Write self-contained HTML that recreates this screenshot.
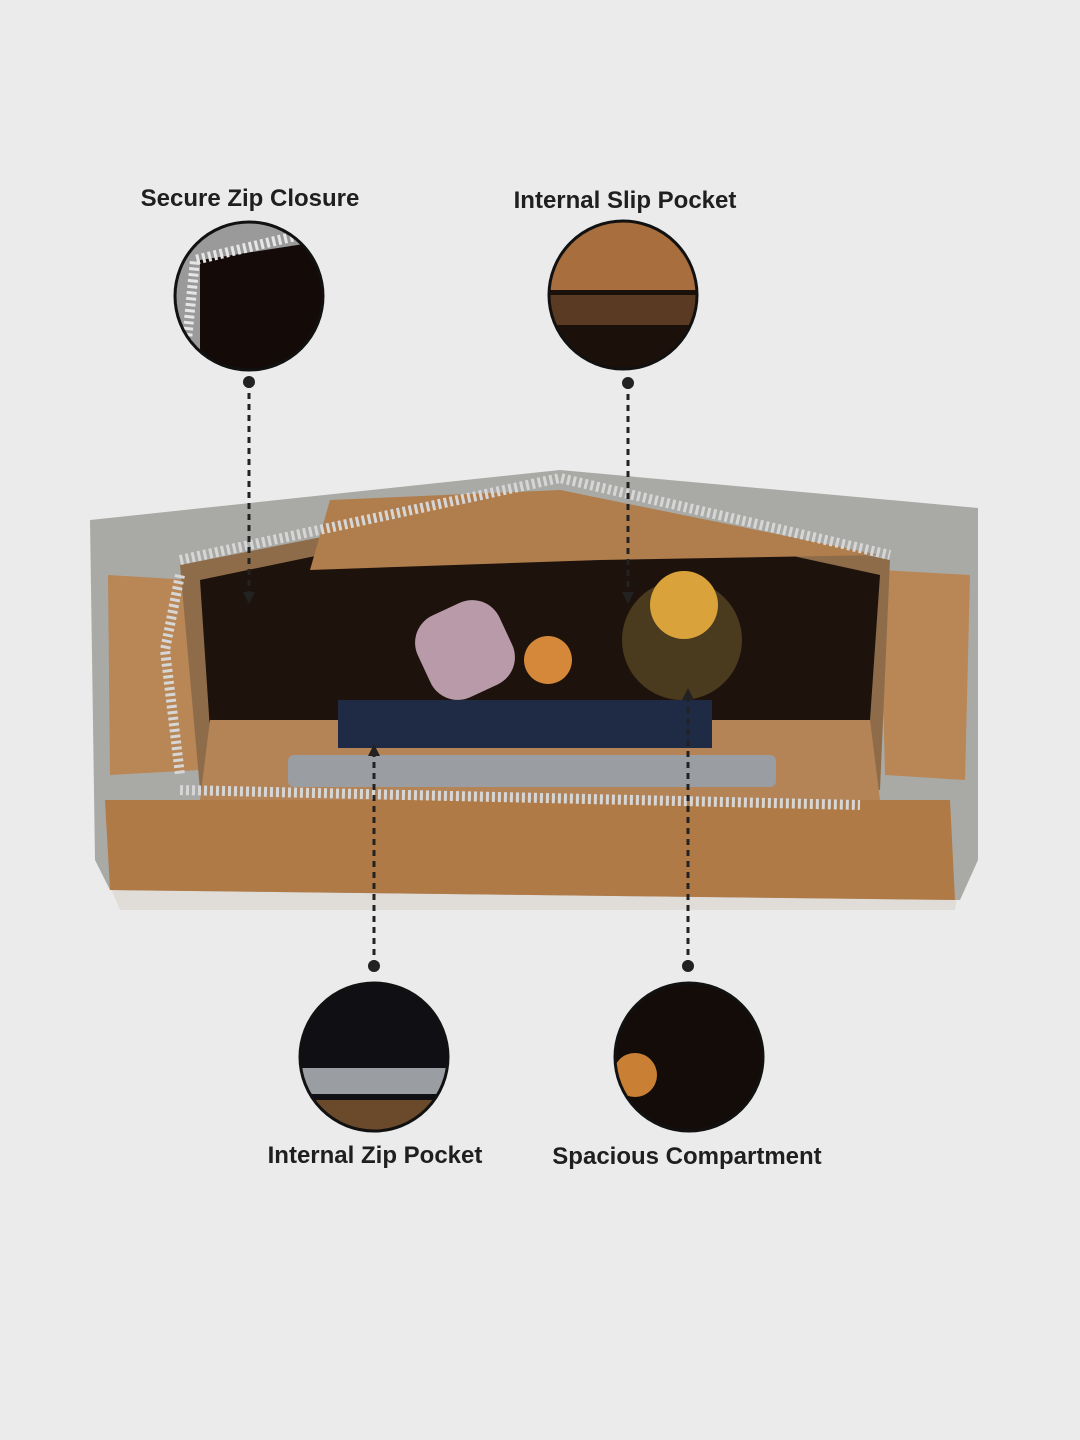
<!DOCTYPE html>
<html><head><meta charset="utf-8"><style>
html,body{margin:0;padding:0;background:#ebebeb;}
svg{display:block}
text{font-family:"Liberation Sans",sans-serif;font-weight:bold;fill:#1f1f1f;font-size:24px}
</style></head><body>
<svg width="1080" height="1440" viewBox="0 0 1080 1440">
<rect width="1080" height="1440" fill="#ebebeb"/>
<!-- bag -->
<polygon points="105,875 960,880 955,910 120,910" fill="#d8d2cc" opacity="0.6"/>
<polygon points="90,520 560,470 978,508 978,860 960,900 110,890 95,860" fill="#a9aaa6"/>
<polygon points="105,800 950,800 955,900 110,890" fill="#b07a47"/>
<polygon points="108,575 190,580 200,770 110,775" fill="#b98656"/>
<polygon points="880,570 970,575 965,780 885,775" fill="#b98656"/>
<polygon points="180,565 560,490 890,560 880,790 200,790" fill="#8e6c49"/>
<polygon points="200,580 560,505 880,575 870,720 210,730" fill="#1d120c"/>
<polygon points="330,500 560,490 880,555 600,560 310,570" fill="#b07d4c"/>
<polygon points="210,720 870,720 880,800 200,800" fill="#b58456"/>
<rect x="338" y="700" width="374" height="48" fill="#1f2a44"/>
<rect x="288" y="755" width="488" height="32" rx="6" fill="#9a9ea3"/>
<rect x="420" y="605" width="90" height="90" rx="30" fill="#b89aa8" transform="rotate(-25 465 650)"/>
<circle cx="548" cy="660" r="24" fill="#d5883a"/>
<circle cx="682" cy="640" r="60" fill="#4a3a1e"/>
<circle cx="684" cy="605" r="34" fill="#d9a23a"/>
<polyline points="180,560 560,478 890,555" fill="none" stroke="#d6d6d6" stroke-width="10" stroke-dasharray="3 3"/>
<polyline points="180,790 860,805" fill="none" stroke="#d6d6d6" stroke-width="10" stroke-dasharray="3 3"/>
<polyline points="180,575 165,650 180,775" fill="none" stroke="#d6d6d6" stroke-width="10" stroke-dasharray="3 3"/>
<!-- circles -->
<defs>
<clipPath id="c1"><circle cx="249" cy="296" r="74"/></clipPath>
<clipPath id="c2"><circle cx="623" cy="295" r="74"/></clipPath>
<clipPath id="c3"><circle cx="374" cy="1057" r="74"/></clipPath>
<clipPath id="c4"><circle cx="689" cy="1057" r="74"/></clipPath>
</defs>
<g clip-path="url(#c1)"><rect x="170" y="220" width="160" height="160" fill="#9a9a9a"/><polygon points="200,260 330,240 330,380 200,380" fill="#140b08"/><polyline points="185,360 195,260 300,235" fill="none" stroke="#e6e6e6" stroke-width="10" stroke-dasharray="3 3"/></g>
<circle cx="249" cy="296" r="74" fill="none" stroke="#111" stroke-width="3"/>
<g clip-path="url(#c2)"><rect x="545" y="215" width="160" height="160" fill="#1c100a"/><rect x="545" y="215" width="160" height="75" fill="#a86e3e"/><rect x="545" y="295" width="160" height="30" fill="#5a3a22"/></g>
<circle cx="623" cy="295" r="74" fill="none" stroke="#111" stroke-width="3"/>
<g clip-path="url(#c3)"><rect x="295" y="980" width="160" height="160" fill="#0f0f14"/><rect x="295" y="1068" width="160" height="26" fill="#9a9ea3"/><rect x="295" y="1100" width="160" height="40" fill="#6a4a2a"/></g>
<circle cx="374" cy="1057" r="74" fill="none" stroke="#111" stroke-width="3"/>
<g clip-path="url(#c4)"><rect x="610" y="980" width="160" height="160" fill="#140c08"/><circle cx="635" cy="1075" r="22" fill="#c98034"/></g>
<circle cx="689" cy="1057" r="74" fill="none" stroke="#111" stroke-width="3"/>
<!-- connectors -->
<g stroke="#222" stroke-width="3" stroke-dasharray="6 5" fill="none">
<line x1="249" y1="382" x2="249" y2="595"/>
<line x1="628" y1="383" x2="628" y2="595"/>
<line x1="374" y1="966" x2="374" y2="755"/>
<line x1="688" y1="966" x2="688" y2="700"/>
</g>
<g fill="#222">
<circle cx="249" cy="382" r="6"/><circle cx="628" cy="383" r="6"/>
<circle cx="374" cy="966" r="6"/><circle cx="688" cy="966" r="6"/>
<polygon points="243,592 255,592 249,604"/><polygon points="622,592 634,592 628,604"/>
<polygon points="368,756 380,756 374,744"/><polygon points="682,700 694,700 688,688"/>
</g>
<text x="250" y="206" text-anchor="middle">Secure Zip Closure</text>
<text x="625" y="208" text-anchor="middle">Internal Slip Pocket</text>
<text x="375" y="1163" text-anchor="middle">Internal Zip Pocket</text>
<text x="687" y="1164" text-anchor="middle">Spacious Compartment</text>
</svg>
</body></html>
